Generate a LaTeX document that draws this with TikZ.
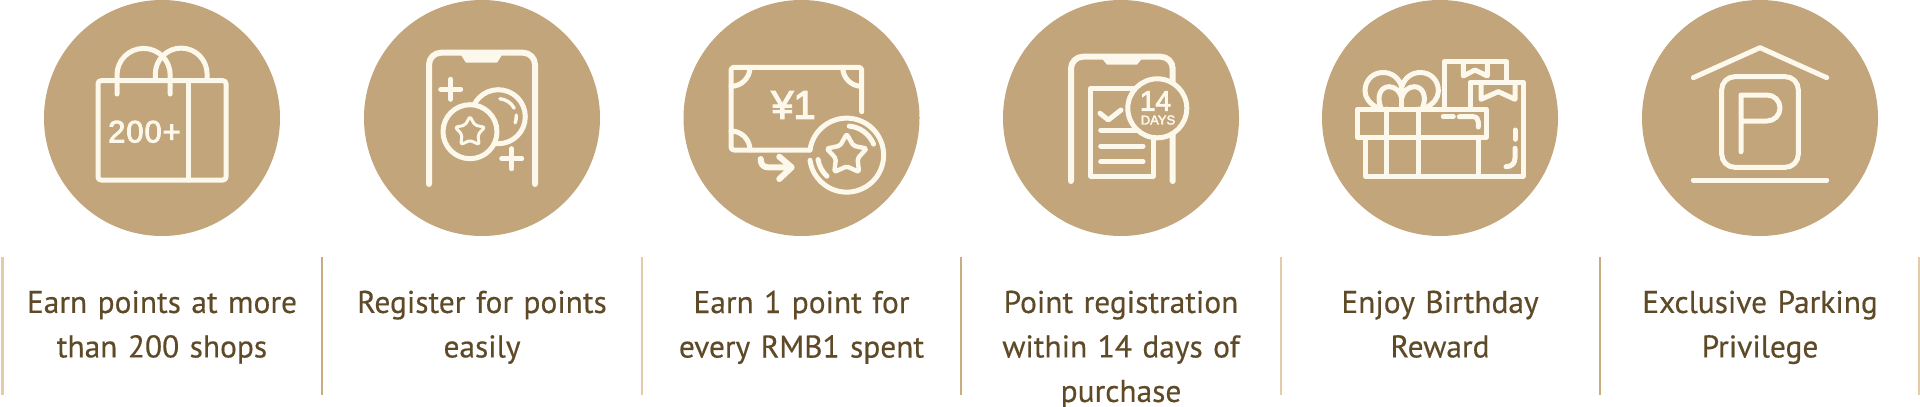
\documentclass[tikz,border=0pt]{standalone}
\usepackage{fontspec}
\setmainfont[FakeBold=0.4]{PT Sans}
\newfontfamily\iconfont[FakeBold=3]{Liberation Sans}
\usetikzlibrary{shapes.geometric}
\definecolor{goldtan}{HTML}{C2A57B}
\definecolor{iconcream}{HTML}{FDF8EC}
\definecolor{captionbrown}{HTML}{5F4A28}
\definecolor{ruletan}{HTML}{C9AC80}
\definecolor{ruletanpale}{HTML}{E3CDA9}
\tikzset{
  badge/.style={circle,fill=goldtan,minimum size=236pt,inner sep=0},
  caption/.style={text=captionbrown,anchor=north,align=center,text width=310pt,inner sep=0,font=\fontsize{31.4}{44.5}\selectfont},
  divider/.style={draw=ruletan,line width=2},
  dividerpale/.style={draw=ruletanpale,line width=2.6},
  iconline/.style={draw=iconcream,line width=5,line cap=round,line join=round},
  iconthick/.style={iconline,line width=6},
  icontext/.style={text=iconcream,inner sep=0},
  coinstar/.style={star,star points=5,star point ratio=1.85,draw=iconcream,line join=round,rounded corners=2,inner sep=0}
}
\begin{document}
\begin{tikzpicture}[x=1pt,y=-1pt]
  \useasboundingbox (0,0) rectangle (1920,407);
  \node[badge] (bagbadge) at (162,118) {};
  \node[badge] (phonebadge) at (482,118) {};
  \node[badge] (billbadge) at (801.5,118) {};
  \node[badge] (daysbadge) at (1121,118) {};
  \node[badge] (giftbadge) at (1440,118) {};
  \node[badge] (parkbadge) at (1760,118) {};

  \draw[dividerpale] (2.4,257) -- (2.4,395);
  \draw[divider] (321.6,257) -- (321.6,395);
  \draw[dividerpale] (642,257) -- (642,395);
  \draw[divider] (961,257) -- (961,395);
  \draw[dividerpale] (1281,257) -- (1281,395);
  \draw[divider] (1600,257) -- (1600,395);
  \draw[dividerpale] (1919,257) -- (1919,395);

  \node[caption] (bagtext) at (162,290.5) {Earn points at more\\than 200 shops};
  \node[caption] (phonetext) at (482,290.5) {Register for points\\easily};
  \node[caption] (billtext) at (801.5,290.5) {Earn 1 point for\\every RMB1 spent};
  \node[caption] (daystext) at (1121,290.5) {Point registration\\within 14 days of\\purchase};
  \node[caption] (gifttext) at (1440,290.5) {Enjoy Birthday\\Reward};
  \node[caption] (parktext) at (1760,290.5) {Exclusive Parking\\Privilege};

  \draw[iconline,rounded corners=3] (98,80.7) rectangle (226,180);
  \draw[iconline] (188.7,80.7) -- (188.7,180);
  \draw[iconline] (117,94) -- (117,75) arc[start angle=180,end angle=360,radius=26.6] -- (170.2,94);
  \draw[iconline] (155.3,80) -- (155.3,74) arc[start angle=180,end angle=360,radius=25.9] -- (207,80);
  \node[icontext,font=\iconfont\addfontfeature{LetterSpace=3}\fontsize{31}{31}\selectfont] (bagcount) at (144.5,131.7) {200+};

  \draw[iconthick,rounded corners=12] (429,184) -- (429,52.7) -- (535,52.7) -- (535,184);
  \fill[iconcream] (459,52) -- (466,62.7) -- (497,62.7) -- (504,52) -- cycle;
  \draw[iconline] (440.7,89.3) -- (460.7,89.3) (450.7,79.3) -- (450.7,99.3);
  \draw[iconline] (501.7,158.7) -- (521.7,158.7) (511.7,148.7) -- (511.7,168.7);
  \draw[iconline] (498.3,116.7) circle (27);
  \draw[iconline,line width=3.4] (498.3,116.7) ++(-85:18) arc[start angle=-85,end angle=-28,radius=18];
  \draw[iconline,line width=3.4] (498.3,116.7) ++(-5:18) arc[start angle=-5,end angle=20,radius=18];
  \draw[iconline,fill=goldtan] (470,131.7) circle (27);
  \node[coinstar,line width=3,minimum size=31pt] (phonestar) at (470,132) {};

  \draw[iconline,rounded corners=3] (861.7,111.7) -- (861.7,67.3) -- (731,67.3) -- (731,150) -- (810,150);
  \draw[iconline] (810,150) arc[start angle=-172,end angle=172,radius=37];
  \draw[iconline] (750,67.3) arc[start angle=0,end angle=90,radius=19];
  \draw[iconline] (842.7,67.3) arc[start angle=180,end angle=90,radius=19];
  \draw[iconline] (731,131) arc[start angle=-90,end angle=0,radius=19];
  \draw[iconline] (846.7,155) ++(-85:29) arc[start angle=-85,end angle=-22,radius=29];
  \draw[iconline] (846.7,155) ++(171:29) arc[start angle=171,end angle=133,radius=29];
  \node[coinstar,line width=4.4,minimum size=42pt] (billstar) at (846.7,155) {};
  \node[icontext,font=\iconfont\fontsize{40}{40}\selectfont] (billprice) at (793.5,105) {¥1};
  \draw[iconthick] (760.7,159) .. controls (760.7,164) and (763,167.3) .. (768,167.3) -- (791,167.3);
  \draw[iconthick] (779.3,156.7) -- (791.7,167.3) -- (779.3,179);

  \draw[iconthick,rounded corners=12] (1071,181) -- (1071,56.7) -- (1172.7,56.7) -- (1172.7,181);
  \fill[iconcream] (1100,56) -- (1107,64.7) -- (1137,64.7) -- (1144,56) -- cycle;
  \draw[iconline] (1090.7,88.3) rectangle (1153.3,176);
  \draw[iconline] (1100,113.3) -- (1108.3,120) -- (1121,110);
  \draw[iconline] (1100.7,130) -- (1140,130);
  \draw[iconline] (1100.7,146) -- (1143,146);
  \draw[iconline] (1100.7,161.7) -- (1143,161.7);
  \draw[iconline,fill=goldtan] (1157.3,108.3) circle (29.5);
  \node[icontext,font=\iconfont\fontsize{28}{28}\selectfont] (daysnum) at (1155.5,101) {14};
  \node[icontext,font=\iconfont\fontsize{13}{13}\selectfont] (dayslabel) at (1158,120) {DAYS};

  \draw[iconline] (1444.3,108) -- (1444.3,61.7) -- (1506.7,61.7) -- (1506.7,81);
  \draw[iconline] (1463.3,62.7) -- (1463.3,76) -- (1475,70) -- (1487.3,76) -- (1487.3,62.7);
  \draw[iconline] (1470,108) -- (1470,82.3) -- (1523.3,82.3) -- (1523.3,176);
  \draw[iconline] (1481,83.3) -- (1481,99.3) -- (1498.3,91.7) -- (1515,99.3) -- (1515,83.3);
  \draw[iconline] (1357.3,109) rectangle (1486,137.3);
  \draw[iconline] (1365,137.3) -- (1365,176) -- (1523.3,176);
  \draw[iconline] (1478.3,137.3) -- (1478.3,176);
  \draw[iconline] (1386.7,109) -- (1386.7,176);
  \draw[iconline] (1418.3,109) -- (1418.3,176);
  \draw[iconline] (1443.3,116.7) -- (1453.3,116.7);
  \draw[iconline] (1459.3,116.7) -- (1473,116.7) .. controls (1476.5,116.7) and (1478.3,119) .. (1478.3,122) -- (1478.3,127);
  \draw[iconline] (1515,130) -- (1515,139.3);
  \draw[iconline] (1515,148.3) -- (1515,158) .. controls (1515,163) and (1512,166.7) .. (1506,166.7);
  \draw[iconline] (1378,108) .. controls (1370,104) and (1365,98) .. (1365,91) .. controls (1365,80) and (1373,72.5) .. (1383,72.5) .. controls (1392,72.5) and (1399,78) .. (1401.7,87) .. controls (1404.4,78) and (1411.4,72.5) .. (1420.4,72.5) .. controls (1430.4,72.5) and (1438.4,80) .. (1438.4,91) .. controls (1438.4,98) and (1433.4,104) .. (1425.4,108);
  \draw[iconline] (1381,108) .. controls (1376,96) and (1381,86.7) .. (1389,86.7) .. controls (1395,86.7) and (1400,91) .. (1401.7,98) .. controls (1403.4,91) and (1408.4,86.7) .. (1414.4,86.7) .. controls (1422.4,86.7) and (1427.4,96) .. (1422.4,108);
  \draw[iconline] (1401.7,87) -- (1401.7,108);

  \draw[iconline] (1693.3,77.7) -- (1760,47.7) -- (1826.7,77.7);
  \draw[iconline,rounded corners=13] (1721.7,76.7) rectangle (1798.3,167.3);
  \draw[iconline] (1741,151.7) -- (1741,95) -- (1767,95) arc[start angle=-90,end angle=90,radius=13] -- (1741,121);
  \draw[iconline] (1693.3,180) -- (1826.7,180);
\end{tikzpicture}
\end{document}
